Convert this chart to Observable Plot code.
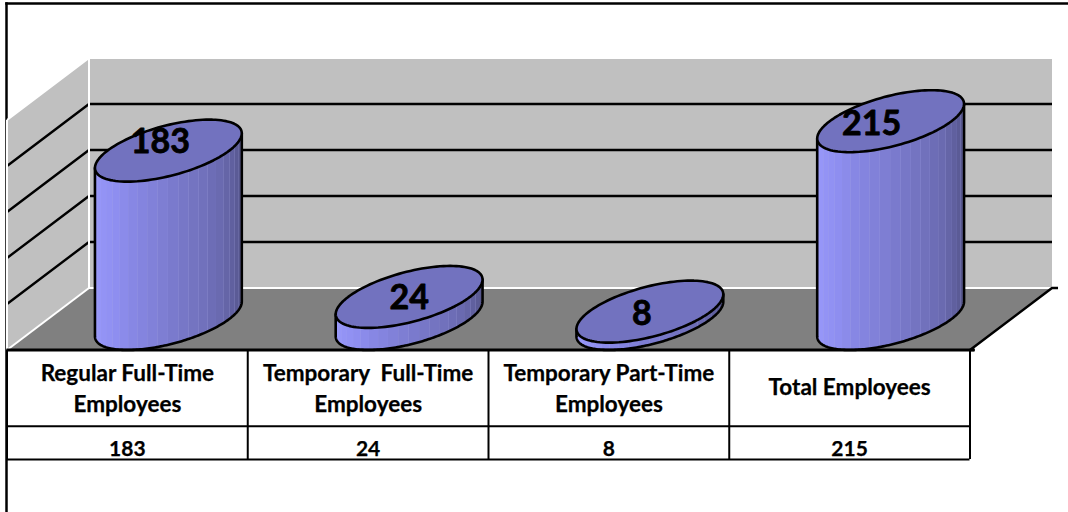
<!DOCTYPE html>
<html>
<head>
<meta charset="utf-8">
<script src="https://cdn.jsdelivr.net/npm/d3@7"></script>
<script src="https://cdn.jsdelivr.net/npm/@observablehq/plot@0.6"></script>
<style>
  html, body { margin: 0; padding: 0; background: #fff; }
  svg { display: block; }
</style>
</head>
<body>
<div id="chart"></div>
<script>
// Headcount by employment category
const categories = [
  "Regular Full-Time\nEmployees",
  "Temporary\u00a0 Full-Time\nEmployees",
  "Temporary Part-Time\nEmployees",
  "Total Employees"
];
const employees = [183, 24, 8, 215];
const gridValues = [50, 100, 150, 200];
const axisMax = 250;

// Oblique projection: depth runs from the table edge (0) to the back wall (1).
const skewX = 0.3406;   // category units per full depth
const skewY = 67.4;     // value units per full depth
const project = (c, v, z) => ({x: c + skewX * z, y: v + skewY * z});

// Table rows sit below the zero line, in value units.
const headerRowEnd = -83;
const valueRowEnd = -119;
const headerRowMid = -38.5;
const valueRowMid = -107.5;

// Cylinder footprint on the floor.
const radiusX = 0.253;
const radiusZ = 0.5;
const rimPoint = (i, v, t) => project(
  i + 0.5 + radiusX * Math.cos(t),
  v,
  0.5 + radiusZ * Math.sin(t)
);
const extremeAngle = Math.atan2(skewX * radiusZ, radiusX);

const sideShade = d3.piecewise(d3.interpolateRgb, ["#9c9cff", "#8e8ef0", "#7c7cd0", "#6a6ab0", "#4f4f80"]);
const stripCount = 22;
const stripSteps = 4;

const strips = employees.flatMap((v, i) => {
  const rows = [];
  for (let s = 0; s < stripCount; s++) {
    for (let k = 0; k <= stripSteps; k++) {
      const t = extremeAngle - Math.PI + Math.PI * (s + k / stripSteps) / stripCount;
      const low = rimPoint(i, 0, t);
      const high = rimPoint(i, v, t);
      rows.push({key: `${i}-${s}`, x: low.x, y1: low.y, y2: high.y, shade: sideShade((s + 0.5) / stripCount)});
    }
  }
  return rows;
});

const angles = d3.range(0, 121).map(k => k / 120);

// Outline of the visible side: down the left, along the base, up the right.
const sideOutlines = employees.flatMap((v, i) => {
  const base = angles.map(f => rimPoint(i, 0, extremeAngle - Math.PI + Math.PI * f));
  return [rimPoint(i, v, extremeAngle - Math.PI), ...base, rimPoint(i, v, extremeAngle)]
    .map(p => ({...p, key: i}));
});

const topCaps = employees.flatMap((v, i) =>
  angles.map(f => ({...rimPoint(i, v, 2 * Math.PI * f), key: i}))
);

const polygon = (key, corners) => corners.map(([c, v, z]) => ({...project(c, v, z), key}));
const n = categories.length;

const backWall = polygon("back", [[0, 0, 1], [n, 0, 1], [n, axisMax, 1], [0, axisMax, 1], [0, 0, 1]]);
const sideWall = polygon("side", [[0, 0, 0], [0, 0, 1], [0, axisMax, 1], [0, axisMax, 0], [0, 0, 0]]);
const floor = polygon("floor", [[0, 0, 0], [n, 0, 0], [n, 0, 1], [0, 0, 1], [0, 0, 0]]);

const gridLines = gridValues.flatMap(v => polygon(v, [[0, v, 0], [0, v, 1], [n, v, 1]]));

const wallEdges = [
  ...polygon("top", [[0, axisMax, 0], [0, axisMax, 1], [n, axisMax, 1]]),
  ...polygon("corner", [[0, axisMax, 1], [0, 0, 1], [n, 0, 1]]),
  ...polygon("foot", [[0, 0, 0], [0, 0, 1]]),
  ...polygon("lip", [[0, 0, 0], [0, axisMax, 0]])
];

const floorEdge = polygon("edge", [[n + 0.02, 0, 0], [n, 0, 0], [n, 0, 1], [n + 0.025, 0, 1]]);

// Pixel nudges for the labels on the cylinder tops.
const capLabelNudge = [[-8, -9], [0, 1], [-8, 2], [-19, 3]];

const labelFont = "Lato, 'Open Sans', sans-serif";

const chart = Plot.plot({
  width: 1068,
  height: 512,
  marginLeft: 6,
  marginTop: 3,
  marginRight: 0,
  marginBottom: 0,
  style: {background: "#fff", fontFamily: labelFont},
  x: {axis: null, domain: [0, n], range: [6.5, 969.5]},
  y: {axis: null, domain: [0, axisMax], range: [349.5, 119.5]},
  marks: [
    Plot.frame({anchor: "left", stroke: "#000", strokeWidth: 2.5}),
    Plot.frame({anchor: "top", stroke: "#000", strokeWidth: 2.5}),

    // Walls and floor
    Plot.line(backWall, {x: "x", y: "y", z: "key", fill: "#c0c0c0", stroke: "none"}),
    Plot.line(sideWall, {x: "x", y: "y", z: "key", fill: "#c0c0c0", stroke: "none"}),
    Plot.line(floor, {x: "x", y: "y", z: "key", fill: "#808080", stroke: "none"}),
    Plot.line(gridLines, {x: "x", y: "y", z: "key", stroke: "#000", strokeWidth: 2.4, strokeLinecap: "butt", strokeLinejoin: "miter"}),
    Plot.line(wallEdges, {x: "x", y: "y", z: "key", stroke: "#fff", strokeWidth: 2, strokeLinecap: "butt", strokeLinejoin: "miter"}),

    // Cylinders: shaded strips, outline, then the cap on top
    Plot.line(sideOutlines, {x: "x", y: "y", z: "key", fill: "#a9a9e6", stroke: "none"}),
    Plot.area(strips, {x1: "x", y1: "y1", y2: "y2", z: "key", fill: "shade"}),
    Plot.line(sideOutlines, {x: "x", y: "y", z: "key", stroke: "#000", strokeWidth: 2.6, strokeLinejoin: "round"}),
    Plot.line(topCaps, {x: "x", y: "y", z: "key", fill: "#7272bf", stroke: "#000", strokeWidth: 2.6}),

    Plot.line(floorEdge, {x: "x", y: "y", z: "key", stroke: "#000", strokeWidth: 2.5, strokeLinejoin: "miter", strokeLinecap: "butt"}),

    // Data table
    Plot.ruleY([0], {x1: 0, x2: n + 0.02, stroke: "#000", strokeWidth: 3}),
    Plot.ruleY([headerRowEnd, valueRowEnd], {x1: 0, x2: n, stroke: "#000", strokeWidth: 2}),
    Plot.ruleX(d3.range(0, n + 1), {y1: valueRowEnd, y2: 0, stroke: "#000", strokeWidth: 2}),

    Plot.text(categories, {
      x: (d, i) => i + 0.5,
      y: (d, i) => headerRowMid - (i === 3 ? 0 : 1.5),
      text: d => d,
      fontWeight: 700,
      fontSize: 22.5,
      lineHeight: 1.38,
      fill: "#000",
      stroke: "#000",
      strokeWidth: 0.25
    }),
    Plot.text(employees, {
      x: (d, i) => i + 0.5,
      y: valueRowMid,
      text: d => String(d),
      fontWeight: 700,
      fontSize: 21,
      fill: "#000",
      stroke: "#000",
      strokeWidth: 0.25
    }),

    // Values written on the cylinder tops
    ...employees.map((v, i) => {
      const c = project(i + 0.5, v, 0.5);
      return Plot.text([v], {
        x: () => c.x,
        y: () => c.y,
        text: d => String(d),
        dx: capLabelNudge[i][0],
        dy: capLabelNudge[i][1],
        fontWeight: 700,
        fontSize: 34,
        fill: "#000",
        stroke: "#000",
        strokeWidth: 0.8
      });
    })
  ]
});

document.getElementById("chart").append(chart);
</script>
</body>
</html>
